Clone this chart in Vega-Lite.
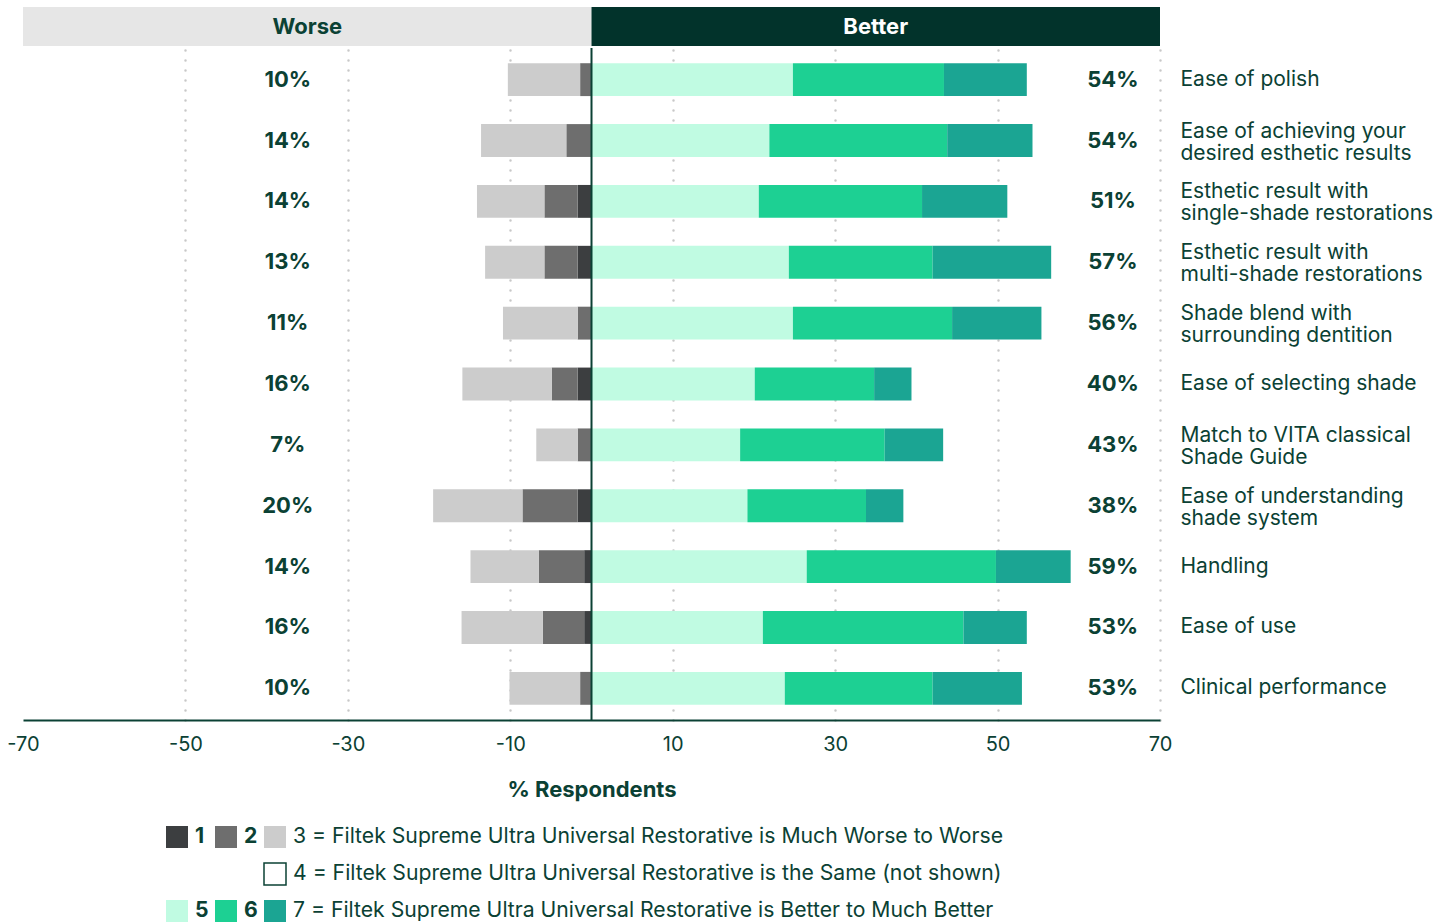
{
  "$schema": "https://vega.github.io/schema/vega-lite/v6.json",
  "padding": {"left": 6, "top": 7, "right": 5, "bottom": 0},
  "background": "white",
  "config": {
    "font": "Inter",
    "view": {"stroke": null},
    "text": {"font": "Inter"}
  },
  "datasets": {
    "responses": [
      {"item": "Ease of polish", "rating": "2", "value": -1.4},
      {"item": "Ease of polish", "rating": "3", "value": -8.9},
      {"item": "Ease of polish", "rating": "5", "value": 24.8},
      {"item": "Ease of polish", "rating": "6", "value": 18.6},
      {"item": "Ease of polish", "rating": "7", "value": 10.2},
      {"item": "Ease of achieving your desired esthetic results", "rating": "2", "value": -3.1},
      {"item": "Ease of achieving your desired esthetic results", "rating": "3", "value": -10.5},
      {"item": "Ease of achieving your desired esthetic results", "rating": "5", "value": 21.9},
      {"item": "Ease of achieving your desired esthetic results", "rating": "6", "value": 21.9},
      {"item": "Ease of achieving your desired esthetic results", "rating": "7", "value": 10.5},
      {"item": "Esthetic result with single-shade restorations", "rating": "1", "value": -1.7},
      {"item": "Esthetic result with single-shade restorations", "rating": "2", "value": -4.1},
      {"item": "Esthetic result with single-shade restorations", "rating": "3", "value": -8.3},
      {"item": "Esthetic result with single-shade restorations", "rating": "5", "value": 20.6},
      {"item": "Esthetic result with single-shade restorations", "rating": "6", "value": 20.1},
      {"item": "Esthetic result with single-shade restorations", "rating": "7", "value": 10.5},
      {"item": "Esthetic result with multi-shade restorations", "rating": "1", "value": -1.7},
      {"item": "Esthetic result with multi-shade restorations", "rating": "2", "value": -4.1},
      {"item": "Esthetic result with multi-shade restorations", "rating": "3", "value": -7.3},
      {"item": "Esthetic result with multi-shade restorations", "rating": "5", "value": 24.3},
      {"item": "Esthetic result with multi-shade restorations", "rating": "6", "value": 17.7},
      {"item": "Esthetic result with multi-shade restorations", "rating": "7", "value": 14.6},
      {"item": "Shade blend with surrounding dentition", "rating": "2", "value": -1.7},
      {"item": "Shade blend with surrounding dentition", "rating": "3", "value": -9.2},
      {"item": "Shade blend with surrounding dentition", "rating": "5", "value": 24.8},
      {"item": "Shade blend with surrounding dentition", "rating": "6", "value": 19.6},
      {"item": "Shade blend with surrounding dentition", "rating": "7", "value": 11.0},
      {"item": "Ease of selecting shade", "rating": "1", "value": -1.7},
      {"item": "Ease of selecting shade", "rating": "2", "value": -3.2},
      {"item": "Ease of selecting shade", "rating": "3", "value": -11.0},
      {"item": "Ease of selecting shade", "rating": "5", "value": 20.1},
      {"item": "Ease of selecting shade", "rating": "6", "value": 14.7},
      {"item": "Ease of selecting shade", "rating": "7", "value": 4.6},
      {"item": "Match to VITA classical Shade Guide", "rating": "2", "value": -1.7},
      {"item": "Match to VITA classical Shade Guide", "rating": "3", "value": -5.1},
      {"item": "Match to VITA classical Shade Guide", "rating": "5", "value": 18.3},
      {"item": "Match to VITA classical Shade Guide", "rating": "6", "value": 17.8},
      {"item": "Match to VITA classical Shade Guide", "rating": "7", "value": 7.2},
      {"item": "Ease of understanding shade system", "rating": "1", "value": -1.7},
      {"item": "Ease of understanding shade system", "rating": "2", "value": -6.8},
      {"item": "Ease of understanding shade system", "rating": "3", "value": -11.0},
      {"item": "Ease of understanding shade system", "rating": "5", "value": 19.2},
      {"item": "Ease of understanding shade system", "rating": "6", "value": 14.6},
      {"item": "Ease of understanding shade system", "rating": "7", "value": 4.6},
      {"item": "Handling", "rating": "1", "value": -0.9},
      {"item": "Handling", "rating": "2", "value": -5.6},
      {"item": "Handling", "rating": "3", "value": -8.4},
      {"item": "Handling", "rating": "5", "value": 26.5},
      {"item": "Handling", "rating": "6", "value": 23.3},
      {"item": "Handling", "rating": "7", "value": 9.2},
      {"item": "Ease of use", "rating": "1", "value": -0.9},
      {"item": "Ease of use", "rating": "2", "value": -5.1},
      {"item": "Ease of use", "rating": "3", "value": -10.0},
      {"item": "Ease of use", "rating": "5", "value": 21.1},
      {"item": "Ease of use", "rating": "6", "value": 24.7},
      {"item": "Ease of use", "rating": "7", "value": 7.8},
      {"item": "Clinical performance", "rating": "2", "value": -1.4},
      {"item": "Clinical performance", "rating": "3", "value": -8.7},
      {"item": "Clinical performance", "rating": "5", "value": 23.8},
      {"item": "Clinical performance", "rating": "6", "value": 18.2},
      {"item": "Clinical performance", "rating": "7", "value": 11.0}
    ],
    "totals": [
      {"item": "Ease of polish", "worse": 0.10, "better": 0.54},
      {"item": "Ease of achieving your desired esthetic results", "worse": 0.14, "better": 0.54},
      {"item": "Esthetic result with single-shade restorations", "worse": 0.14, "better": 0.51},
      {"item": "Esthetic result with multi-shade restorations", "worse": 0.13, "better": 0.57},
      {"item": "Shade blend with surrounding dentition", "worse": 0.11, "better": 0.56},
      {"item": "Ease of selecting shade", "worse": 0.16, "better": 0.40},
      {"item": "Match to VITA classical Shade Guide", "worse": 0.07, "better": 0.43},
      {"item": "Ease of understanding shade system", "worse": 0.20, "better": 0.38},
      {"item": "Handling", "worse": 0.14, "better": 0.59},
      {"item": "Ease of use", "worse": 0.16, "better": 0.53},
      {"item": "Clinical performance", "worse": 0.10, "better": 0.53}
    ],
    "sides": [
      {"label": "Worse"},
      {"label": "Better"}
    ]
  },
  "spacing": 1,
  "resolve": {"scale": {"x": "independent"}},
  "vconcat": [
    {
      "width": 1137,
      "height": 39,
      "data": {"name": "sides"},
      "encoding": {
        "x": {
          "field": "label",
          "type": "nominal",
          "sort": ["Worse", "Better"],
          "scale": {"paddingInner": 0, "paddingOuter": 0},
          "axis": null
        }
      },
      "layer": [
        {
          "mark": {"type": "rect"},
          "encoding": {
            "fill": {
              "condition": {"test": "datum.label === 'Worse'", "value": "#e6e6e6"},
              "value": "#02332b"
            }
          }
        },
        {
          "mark": {"type": "text", "fontSize": 22, "fontWeight": "bold", "baseline": "middle", "align": "center"},
          "encoding": {
            "text": {"field": "label"},
            "color": {
              "condition": {"test": "datum.label === 'Better'", "value": "#ffffff"},
              "value": "#0b4134"
            }
          }
        }
      ]
    },
    {
      "width": 1137,
      "height": 672,
      "layer": [
        {
          "data": {"name": "responses"},
          "mark": {"type": "bar"},
          "encoding": {
            "y": {
              "field": "item",
              "type": "nominal",
              "sort": [
                "Ease of polish",
                "Ease of achieving your desired esthetic results",
                "Esthetic result with single-shade restorations",
                "Esthetic result with multi-shade restorations",
                "Shade blend with surrounding dentition",
                "Ease of selecting shade",
                "Match to VITA classical Shade Guide",
                "Ease of understanding shade system",
                "Handling",
                "Ease of use",
                "Clinical performance"
              ],
              "scale": {"paddingInner": 0.46, "paddingOuter": 0.25},
              "axis": {
                "orient": "right",
                "title": null,
                "domain": false,
                "ticks": false,
                "tickSize": 0,
                "labelPadding": 20,
                "labelAlign": "left",
                "labelBaseline": "middle",
                "labelFontSize": 21,
                "labelColor": "#0b4134",
                "labelLimit": 0,
                "labelLineHeight": 22,
                "labelOffset": {
                  "condition": {"test": "test(regexp('^(Ease of achieving your|Esthetic result with|Shade blend with|Match to VITA classical|Ease of understanding) '), datum.label)", "value": -9},
                  "value": 0
                },
                "labelExpr": "split(replace(datum.label, regexp('^(Ease of achieving your|Esthetic result with|Shade blend with|Match to VITA classical|Ease of understanding) '), '$1|'), '|')"
              }
            },
            "x": {
              "field": "value",
              "type": "quantitative",
              "stack": "zero",
              "scale": {"domain": [-70, 70], "nice": false, "zero": false},
              "title": "% Respondents",
              "axis": {
                "values": [-70, -50, -30, -10, 10, 30, 50, 70],
                "labelExpr": "toString(datum.value)",
                "domain": true,
                "domainColor": "#0b4134",
                "domainWidth": 2,
                "ticks": false,
                "tickSize": 0,
                "labelPadding": 14,
                "labelFontSize": 20,
                "labelColor": "#0b4134",
                "labelFlush": false,
                "labelOverlap": false,
                "grid": true,
                "gridColor": "#c8c8c8",
                "gridWidth": 2.5,
                "gridDash": [0.1, 9.9],
                "gridCap": "round",
                "gridOpacity": {"condition": {"test": "datum.value === -70", "value": 0}, "value": 1},
                "titleFontSize": 22,
                "titleFontWeight": "bold",
                "titleColor": "#0b4134",
                "titlePadding": 25
              }
            },
            "color": {
              "field": "rating",
              "type": "nominal",
              "scale": {
                "domain": ["1", "2", "3", "x1", "x2", "4", "5", "6", "7"],
                "range": ["#3c3e40", "#6e6e6e", "#cccccc", "#ffffff", "#ffffff", "#ffffff", "#c0fbe2", "#1dd093", "#1ba593"]
              },
              "legend": {
                "orient": "none",
                "legendX": 142,
                "legendY": 818,
                "direction": "horizontal",
                "columns": 3,
                "title": null,
                "symbolType": "square",
                "symbolSize": 484,
                "symbolOpacity": 1,
                "labelFontSize": 21.2,
                "labelColor": "#0b4134",
                "labelLimit": 0,
                "labelOffset": 6,
                "columnPadding": 3,
                "rowPadding": 9,
                "padding": 0,
                "labelExpr": "datum.value === '3' ? '3 = Filtek Supreme Ultra Universal Restorative is Much Worse to Worse' : datum.value === '4' ? '4 = Filtek Supreme Ultra Universal Restorative is the Same (not shown)' : datum.value === '7' ? '7 = Filtek Supreme Ultra Universal Restorative is Better to Much Better' : (datum.value === 'x1' || datum.value === 'x2') ? '' : datum.label",
                "encode": {
                  "labels": {"update": {"fontWeight": {"signal": "indexof(['1','2','5','6'], datum.value) >= 0 ? 'bold' : 'normal'"}}},
                  "symbols": {"update": {"stroke": {"signal": "datum.value === '4' ? '#0b4134' : 'transparent'"}, "strokeWidth": {"value": 1.5}}}
                }
              }
            },
            "order": {"field": "rating", "type": "ordinal"}
          }
        },
        {
          "data": {"values": [{}]},
          "mark": {"type": "rule", "color": "#0b4134", "strokeWidth": 2},
          "encoding": {"x": {"datum": 0}}
        },
        {
          "data": {"name": "totals"},
          "mark": {"type": "text", "fontSize": 22, "fontWeight": "bold", "color": "#0b4134", "align": "center", "baseline": "middle"},
          "encoding": {
            "y": {
              "field": "item",
              "type": "nominal",
              "sort": [
                "Ease of polish",
                "Ease of achieving your desired esthetic results",
                "Esthetic result with single-shade restorations",
                "Esthetic result with multi-shade restorations",
                "Shade blend with surrounding dentition",
                "Ease of selecting shade",
                "Match to VITA classical Shade Guide",
                "Ease of understanding shade system",
                "Handling",
                "Ease of use",
                "Clinical performance"
              ]
            },
            "x": {"datum": -37.4},
            "text": {"field": "worse", "type": "quantitative", "format": ".0%"}
          }
        },
        {
          "data": {"name": "totals"},
          "mark": {"type": "text", "fontSize": 22, "fontWeight": "bold", "color": "#0b4134", "align": "center", "baseline": "middle"},
          "encoding": {
            "y": {
              "field": "item",
              "type": "nominal",
              "sort": [
                "Ease of polish",
                "Ease of achieving your desired esthetic results",
                "Esthetic result with single-shade restorations",
                "Esthetic result with multi-shade restorations",
                "Shade blend with surrounding dentition",
                "Ease of selecting shade",
                "Match to VITA classical Shade Guide",
                "Ease of understanding shade system",
                "Handling",
                "Ease of use",
                "Clinical performance"
              ]
            },
            "x": {"datum": 64.2},
            "text": {"field": "better", "type": "quantitative", "format": ".0%"}
          }
        }
      ]
    }
  ]
}
